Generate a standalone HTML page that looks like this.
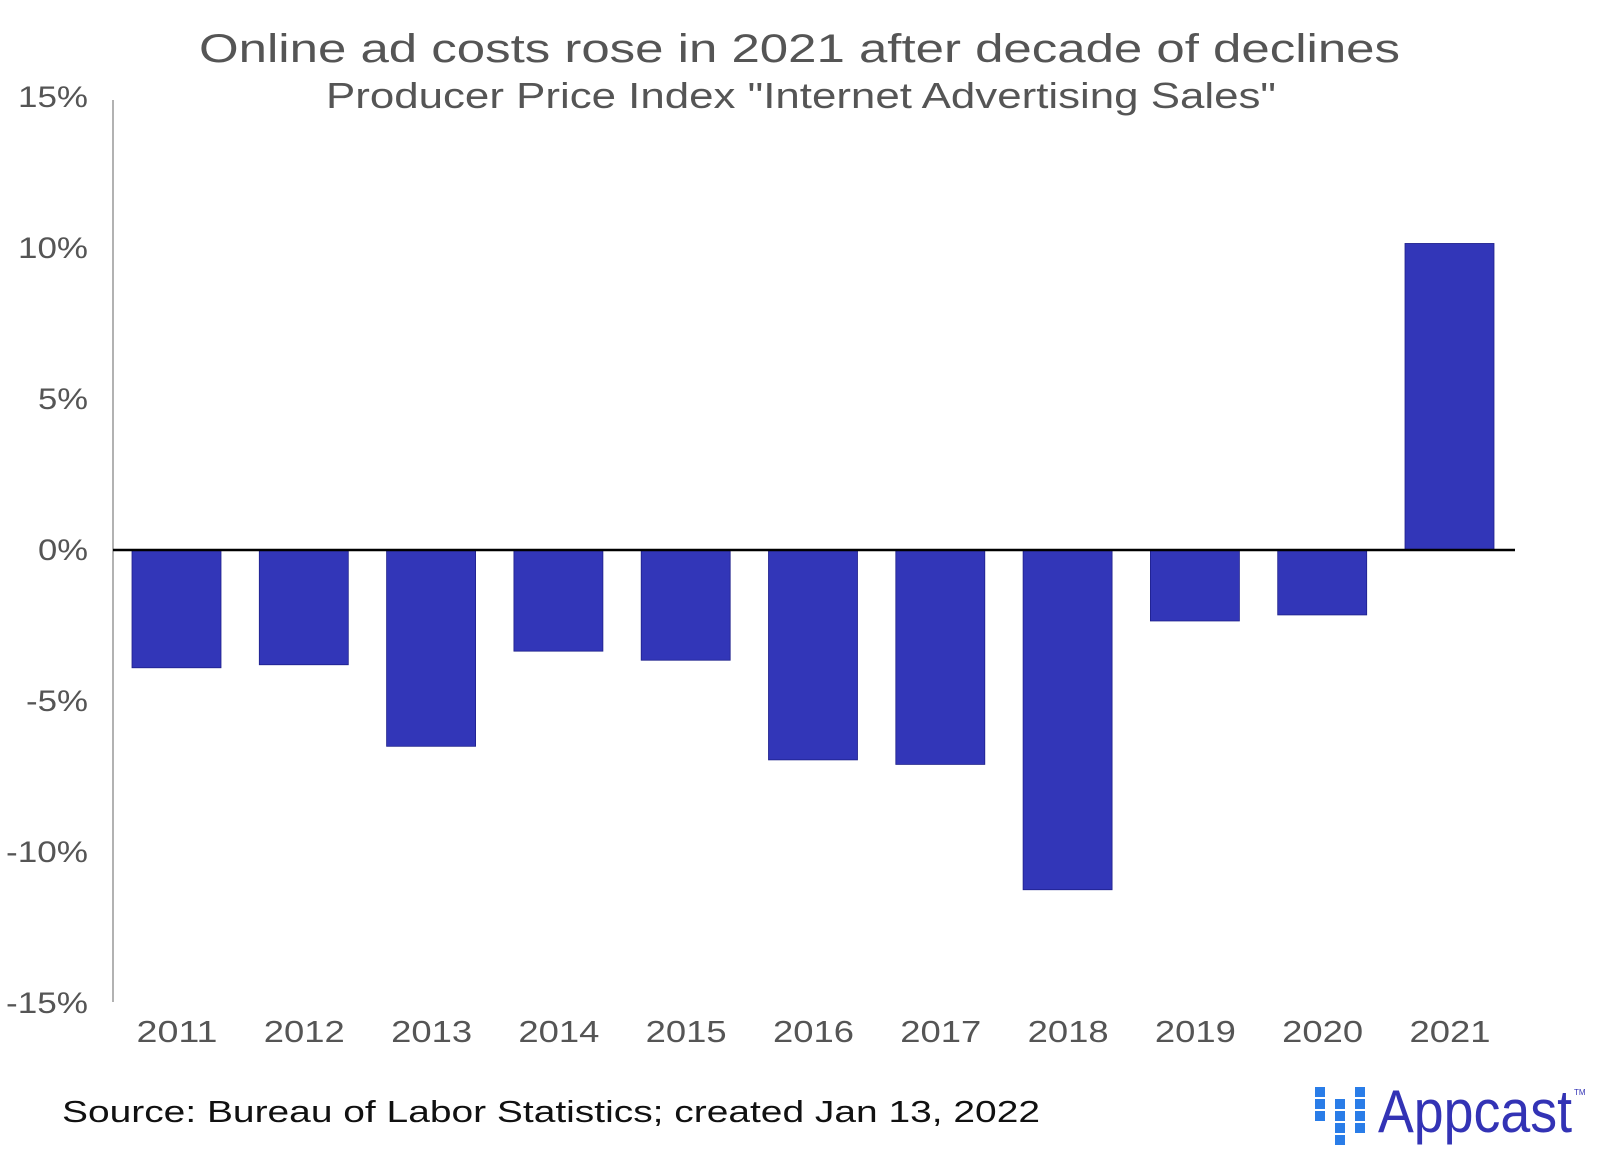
<!DOCTYPE html>
<html><head><meta charset="utf-8"><style>
html,body{margin:0;padding:0;background:#fff;}
svg{display:block;}
</style></head><body>
<svg id="chart" width="1600" height="1162" viewBox="0 0 1600 1162" xmlns="http://www.w3.org/2000/svg" font-family="'Liberation Sans', sans-serif">
<text x="199" y="62" font-size="40" fill="#555" textLength="1201" lengthAdjust="spacingAndGlyphs">Online ad costs rose in 2021 after decade of declines</text>
<text x="326" y="108" font-size="36" fill="#555" textLength="950" lengthAdjust="spacingAndGlyphs">Producer Price Index "Internet Advertising Sales"</text>
<g id="yticks"></g>
<line x1="113" y1="100" x2="113" y2="1002" stroke="#999" stroke-width="1.5"/>
<g id="bars"></g>
<line x1="113" y1="550" x2="1515" y2="550" stroke="#000" stroke-width="2.5"/>
<g id="xticks"></g>
<text x="62" y="1122" font-size="31" fill="#111" textLength="978" lengthAdjust="spacingAndGlyphs">Source: Bureau of Labor Statistics; created Jan 13, 2022</text>
<g>
  <g fill="#2a7de8">
    <rect x="1315" y="1087" width="10" height="10"/><rect x="1315" y="1099" width="10" height="10"/><rect x="1315" y="1111" width="10" height="10"/>
    <rect x="1335" y="1099" width="10" height="10"/><rect x="1335" y="1111" width="10" height="10"/><rect x="1335" y="1123" width="10" height="10"/><rect x="1335" y="1135" width="10" height="10"/>
    <rect x="1355" y="1087" width="10" height="10"/><rect x="1355" y="1099" width="10" height="10"/><rect x="1355" y="1111" width="10" height="10"/><rect x="1355" y="1123" width="10" height="10"/>
  </g>
  <text x="1378" y="1132" font-size="60" fill="#3333b5" textLength="194" lengthAdjust="spacingAndGlyphs">Appcast</text>
  <text x="1574" y="1095" font-size="8" fill="#3333b5">TM</text>
</g>
</svg>
<script>
const categories = ["2011","2012","2013","2014","2015","2016","2017","2018","2019","2020","2021"];
const values = [-3.9, -3.8, -6.5, -3.35, -3.65, -6.95, -7.1, -11.25, -2.35, -2.15, 10.15];
const yTickValues = [15, 10, 5, 0, -5, -10, -15];
const yTickLabels = ["15%","10%","5%","0%","-5%","-10%","-15%"];

const NS = "http://www.w3.org/2000/svg";
const zeroY = 550, pxPerPct = 30.2;
function yScale(v){ return zeroY - v * pxPerPct; }
const firstCenter = 176.5, step = 127.3, barW = 89;
function xScale(i){ return firstCenter + i * step; }

const barsG = document.getElementById('bars');
values.forEach((v, i) => {
  const r = document.createElementNS(NS, 'rect');
  const y0 = yScale(Math.max(v, 0)), y1 = yScale(Math.min(v, 0));
  r.setAttribute('x', xScale(i) - barW / 2);
  r.setAttribute('y', y0);
  r.setAttribute('width', barW);
  r.setAttribute('height', y1 - y0);
  r.setAttribute('fill', '#3236b8');
  r.setAttribute('stroke', '#1d1f8a');
  r.setAttribute('stroke-width', '0.8');
  
  
  barsG.appendChild(r);
});

function labelWidth(s){
  let w = 0;
  for (const ch of s) w += (ch === '%') ? 30 : (ch === '-') ? 12 : 20;
  return w;
}
const yG = document.getElementById('yticks');
yTickValues.forEach((v, i) => {
  const t = document.createElementNS(NS, 'text');
  const lbl = yTickLabels[i];
  const w = labelWidth(lbl);
  t.setAttribute('x', 88 - w);
  t.setAttribute('y', yScale(v) + 10);
  t.setAttribute('font-size', '30');
  t.setAttribute('fill', '#555');
  t.setAttribute('textLength', w);
  t.setAttribute('lengthAdjust', 'spacingAndGlyphs');
  t.textContent = lbl;
  
  
  yG.appendChild(t);
});

const xG = document.getElementById('xticks');
categories.forEach((c, i) => {
  const t = document.createElementNS(NS, 'text');
  t.setAttribute('x', xScale(i) - 40);
  t.setAttribute('y', 1042);
  t.setAttribute('font-size', '31');
  t.setAttribute('fill', '#555');
  t.setAttribute('textLength', '81');
  t.setAttribute('lengthAdjust', 'spacingAndGlyphs');
  t.textContent = c;
  
  
  xG.appendChild(t);
});
</script>
</body></html>
